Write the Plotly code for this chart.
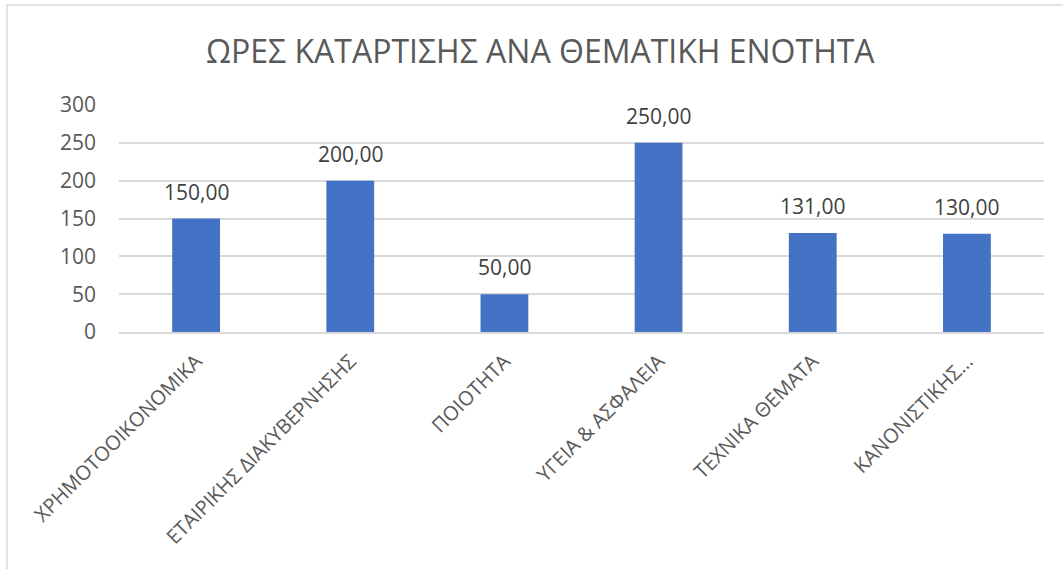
import plotly.graph_objects as go

categories = ["ΧΡΗΜΟΤΟΟΙΚΟΝΟΜΙΚΑ", "ΕΤΑΙΡΙΚΗΣ ΔΙΑΚΥΒΕΡΝΗΣΗΣ", "ΠΟΙΟΤΗΤΑ",
              "ΥΓΕΙΑ & ΑΣΦΑΛΕΙΑ", "ΤΕΧΝΙΚΑ ΘΕΜΑΤΑ", "ΚΑΝΟΝΙΣΤΙΚΗΣ…"]
hours = [150, 200, 50, 250, 131, 130]
y_ticks = [0, 50, 100, 150, 200, 250, 300]

FONT = "Open Sans"
GREY = "#595959"

fig = go.Figure(go.Bar(
    x=categories, y=hours,
    marker=dict(color="#4472C4", line=dict(width=0)),
    hoverinfo="skip",
))

for c, v in zip(categories, hours):
    fig.add_annotation(x=c, y=v, text=f"{v:.2f}".replace(".", ","),
                       showarrow=False, yanchor="bottom", yshift=11,
                       font=dict(family=FONT, size=21, color="#404040"))

fig.add_shape(type="rect", xref="paper", yref="paper",
              x0=(7 - 119) / 925, x1=(1070 - 119) / 925,
              y0=(332 - 580) / 227, y1=1 + 100 / 227,
              line=dict(color="#D9D9D9", width=1.5), fillcolor="rgba(0,0,0,0)", layer="below")

fig.add_annotation(text="ΩΡΕΣ ΚΑΤΑΡΤΙΣΗΣ ΑΝΑ ΘΕΜΑΤΙΚΗ ΕΝΟΤΗΤΑ",
                   xref="paper", yref="paper", x=(540 - 119) / 925, y=1 + (105 - 50) / 227,
                   xanchor="center", yanchor="middle", showarrow=False,
                   font=dict(family=FONT, size=32, color=GREY))

fig.update_layout(
    width=1063, height=569,
    margin=dict(l=119, r=19, t=105, b=237),
    paper_bgcolor="white", plot_bgcolor="white",
    bargap=0.69, showlegend=False,
    font=dict(family=FONT, color=GREY),
    xaxis=dict(tickangle=-45, tickfont=dict(family=FONT, size=20, color=GREY),
               showgrid=False, showline=True, linecolor="#D9D9D9", linewidth=1.5,
               ticks="", ticklabelstandoff=8, fixedrange=True),
    yaxis=dict(range=[0, 300], tickvals=y_ticks, tickfont=dict(family=FONT, size=21, color=GREY),
               showgrid=True, gridcolor="#D9D9D9", gridwidth=1.5, zeroline=False,
               showline=False, ticks="", ticklabelstandoff=22, fixedrange=True),
)

fig.write_html("out.html", config={"displayModeBar": False})
